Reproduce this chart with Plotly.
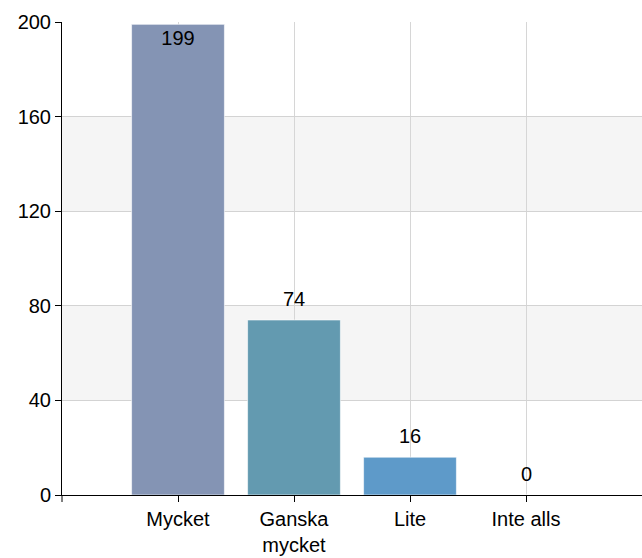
import plotly.graph_objects as go

categories = ["Mycket", "Ganska<br>mycket", "Lite", "Inte alls"]
values = [199, 74, 16, 0]
colors = ["#8494B4", "#639AB0", "#5E9AC9", "#5E9AC9"]
label_inside = [True, False, False, False]
y_ticks = [0, 40, 80, 120, 160, 200]

FONT = "Liberation Sans, Arial, sans-serif"
FS = 20

fig = go.Figure()
fig.add_trace(go.Bar(
    x=categories, y=values,
    marker=dict(color=colors, line=dict(color="rgba(255,255,255,0.6)", width=1)),
    width=0.8,
    text=[str(v) if ins else "" for v, ins in zip(values, label_inside)],
    textposition="inside",
    insidetextanchor="end",
    insidetextfont=dict(color="black", size=FS, family=FONT),
    cliponaxis=False,
    hoverinfo="skip",
))

# labels above the shorter bars
for cat, v, ins in zip(categories, values, label_inside):
    if not ins:
        fig.add_annotation(x=cat, y=v, text=str(v), showarrow=False,
                           yanchor="bottom", yshift=8,
                           font=dict(color="black", size=FS, family=FONT))

# alternating bands
for lo, hi in [(40, 80), (120, 160)]:
    fig.add_shape(type="rect", xref="paper", yref="y", x0=0, x1=1, y0=lo, y1=hi,
                  fillcolor="#F5F5F5", line=dict(width=0), layer="below")

# extend y axis line below x axis
fig.add_shape(type="line", xref="paper", yref="paper", x0=0, x1=0, y0=0, y1=-7/473,
              line=dict(color="black", width=1))

fig.update_layout(
    width=642, height=558,
    margin=dict(l=62, r=0, t=22, b=63),
    paper_bgcolor="white", plot_bgcolor="white",
    font=dict(family=FONT, size=FS, color="black"),
    showlegend=False,
    bargap=0.2,
)
fig.update_xaxes(
    type="category", range=[-1, 4],
    showgrid=True, gridcolor="#D6D6D6", gridwidth=1,
    showline=True, linecolor="black", linewidth=1,
    ticks="outside", ticklen=6, tickcolor="black",
    tickfont=dict(size=FS, family=FONT), fixedrange=True,
)
fig.update_yaxes(
    range=[0, 200], tickvals=y_ticks,
    showgrid=True, gridcolor="#D3D3D3", gridwidth=1,
    showline=True, linecolor="black", linewidth=1,
    ticks="outside", ticklen=6, tickcolor="black",
    tickfont=dict(size=FS, family=FONT), zeroline=False, fixedrange=True,
)

fig.write_html(
    "out.html",
    config={"displayModeBar": False, "staticPlot": True},
    post_script="document.body.style.margin='0';document.body.style.overflow='hidden';",
)
